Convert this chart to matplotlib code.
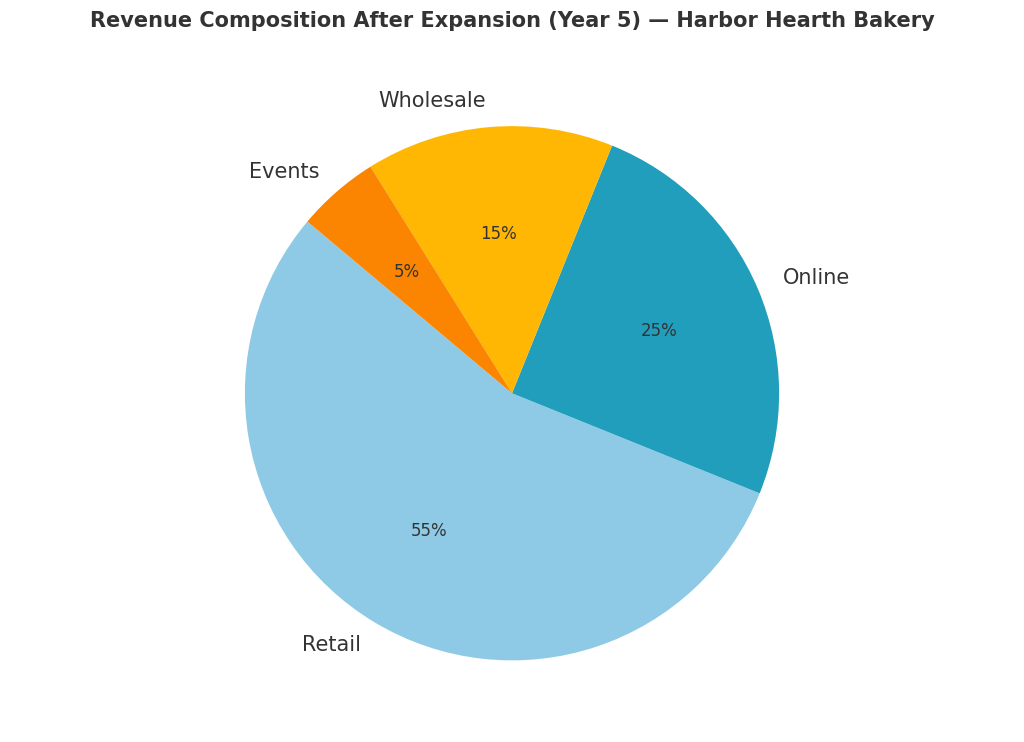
import matplotlib.pyplot as plt

channels = ['Retail', 'Online', 'Wholesale', 'Events']
shares = [55, 25, 15, 5]
colors = ['#8ecae6', '#219ebc', '#ffb703', '#fb8500']

fig = plt.figure(figsize=(10.24, 7.42), dpi=100)
ax = fig.add_axes([0.1, 0.02, 0.8, 0.9])
wedges, texts, autotexts = ax.pie(shares, labels=channels, colors=colors,
                                  autopct='%1.0f%%', startangle=140,
                                  labeldistance=1.1, pctdistance=0.6,
                                  textprops={'color': '#333333', 'fontsize': 13})
for t in texts:
    t.set_fontsize(15)
for t in autotexts:
    t.set_fontsize(12)
ax.set_aspect('equal')
fig.suptitle('Revenue Composition After Expansion (Year 5) — Harbor Hearth Bakery',
             fontsize=15, fontweight='bold', color='#333333', y=0.985)
fig.savefig('out.png', dpi=100)
